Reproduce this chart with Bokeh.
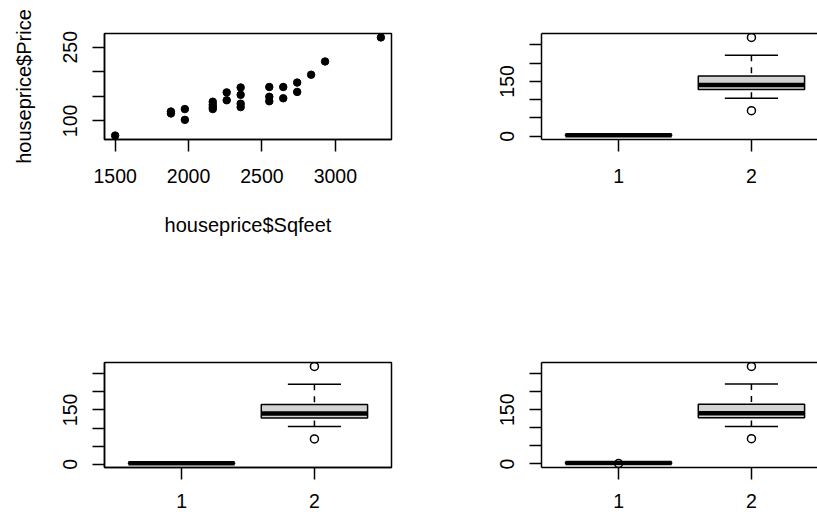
from bokeh.plotting import figure
from bokeh.layouts import gridplot
from bokeh.models import FixedTicker, LinearAxis, Range1d
from bokeh.embed import file_html
from bokeh.resources import INLINE

# ---------------- data ----------------
sqfeet = [1500, 1880, 1880, 1975, 1975, 2165, 2165, 2165, 2165, 2260, 2260,
          2355, 2355, 2355, 2355, 2550, 2550, 2550, 2645, 2645, 2740, 2740,
          2835, 2930, 3310]
price = [70, 119, 115, 124, 102, 139, 133, 128, 124, 158, 142,
         168, 153, 135, 128, 169, 149, 140, 169, 146, 178, 159,
         194, 221, 270]

groups = [1, 2]
group_labels = ["1", "2"]
# five-number boxplot statistics: lower whisker, Q1, median, Q3, upper whisker
col1_stats = [2, 2, 3, 4, 5]
col2_stats = [104, 128, 140, 165, 221]
col2_outliers = [70, 270]
col1_outliers_last = [1]          # only the last panel shows this one

scatter_xticks = [1500, 2000, 2500, 3000]
scatter_yticks = [100, 150, 200, 250]
scatter_ylabels = {100: "100", 150: "", 200: "", 250: "250"}
box_yticks = [0, 50, 100, 150, 200, 250]
box_ylabels = {0: "0", 50: "", 100: "", 150: "150", 200: "", 250: ""}

# ---------------- styling ----------------
FONT = "Liberation Sans"
FS = "19.5px"
FS_TITLE = "20px"
LW = 1.5


def padded(lo, hi, frac=0.04):
    d = (hi - lo) * frac
    return lo - d, hi + d


def style_axis(ax, ticks, overrides=None, standoff=14):
    ax.ticker = FixedTicker(ticks=ticks)
    if overrides:
        ax.major_label_overrides = overrides
    ax.axis_line_color = "black"
    ax.axis_line_width = LW
    ax.major_tick_line_color = "black"
    ax.major_tick_line_width = LW
    ax.major_tick_out = 12
    ax.major_tick_in = 0
    ax.minor_tick_line_color = None
    ax.major_label_text_font = FONT
    ax.major_label_text_font_size = FS
    ax.major_label_text_color = "black"
    ax.major_label_standoff = standoff
    ax.axis_label_text_font = FONT
    ax.axis_label_text_font_size = FS_TITLE
    ax.axis_label_text_font_style = "normal"
    ax.axis_label_text_color = "black"


def make_fig(width, height, xr, yr, left, right, top, bottom, outline=True):
    p = figure(width=width, height=height, x_range=Range1d(*xr), y_range=Range1d(*yr),
               output_backend="svg", toolbar_location=None, tools="",
               min_border_left=left, min_border_right=right,
               min_border_top=top, min_border_bottom=bottom)
    p.grid.visible = False
    p.background_fill_color = "white"
    p.border_fill_color = "white"
    if outline:
        p.outline_line_color = "black"
        p.outline_line_width = LW
    else:
        p.outline_line_color = None
    return p


def add_top_line(p):
    top_ax = LinearAxis(ticker=FixedTicker(ticks=[]), axis_line_color="black",
                        axis_line_width=LW, major_tick_out=0, major_tick_in=0,
                        minor_tick_line_color=None, major_label_text_font_size="0px",
                        major_label_standoff=0)
    p.add_layout(top_ax, "above")


def draw_box(p, c1_stats, c2_stats, out_x, out_y):
    stats = [c1_stats, c2_stats]
    lo = [s[0] for s in stats]
    q1 = [s[1] for s in stats]
    med = [s[2] for s in stats]
    q3 = [s[3] for s in stats]
    hi = [s[4] for s in stats]
    # whiskers (dashed), drawn from whisker end to box
    p.segment(x0=groups, y0=hi, x1=groups, y1=q3, line_color="black", line_width=LW, line_dash="6 6")
    p.segment(x0=groups, y0=lo, x1=groups, y1=q1, line_color="black", line_width=LW, line_dash="6 6")
    # staples
    p.segment(x0=[g - 0.2 for g in groups], y0=hi, x1=[g + 0.2 for g in groups], y1=hi,
              line_color="black", line_width=LW)
    p.segment(x0=[g - 0.2 for g in groups], y0=lo, x1=[g + 0.2 for g in groups], y1=lo,
              line_color="black", line_width=LW)
    # boxes
    p.vbar(x=groups, width=0.8, bottom=q1, top=q3, fill_color="#D3D3D3",
           line_color="black", line_width=LW)
    # medians
    p.segment(x0=[g - 0.4 for g in groups], y0=med, x1=[g + 0.4 for g in groups], y1=med,
              line_color="black", line_width=4.5)
    # outliers
    p.scatter(x=out_x, y=out_y, marker="circle", size=8, fill_color=None,
              line_color="black", line_width=LW)


# ---------------- geometry ----------------
W_LEFT, W_RIGHT = 437, 380
H_TOP, H_BOT = 328, 184
ML_L, MR_L = 104, 46          # left column borders
ML_R = 104                    # right column left border
FRAME_W = W_LEFT - ML_L - MR_L   # 287
VIS_W = W_RIGHT - ML_R           # 276 visible in right column

bx_lo, bx_hi = padded(0.5, 2.5)
bx_vis_hi = bx_lo + (bx_hi - bx_lo) * VIS_W / FRAME_W

# ---------------- panel 1: scatter ----------------
p1 = make_fig(W_LEFT, H_TOP, padded(min(sqfeet), max(sqfeet)), padded(min(price), max(price)),
              ML_L, MR_L, 33, H_TOP - 33 - 106)
p1.scatter(sqfeet, price, marker="circle", size=7.5, color="black")
xa, ya = p1.below[0], p1.left[0]
style_axis(xa, scatter_xticks, standoff=17)
style_axis(ya, scatter_yticks, scatter_ylabels, standoff=15)
ya.major_label_orientation = "vertical"
xa.axis_label = "houseprice$Sqfeet"
ya.axis_label = "houseprice$Price"
xa.axis_label_standoff = 28
ya.axis_label_standoff = 26

# ---------------- panel 2..4: boxplots ----------------
def box_y_range(extra):
    vals = col1_stats + col2_stats + col2_outliers + extra
    return padded(min(vals), max(vals))


def make_box_panel(width, height, xr, left, right, top, bottom, outline, extra_out, standoff):
    p = make_fig(width, height, xr, box_y_range(extra_out), left, right, top, bottom, outline)
    ox = [2] * len(col2_outliers) + [1] * len(extra_out)
    oy = col2_outliers + extra_out
    draw_box(p, col1_stats, col2_stats, ox, oy)
    style_axis(p.below[0], groups, {1: group_labels[0], 2: group_labels[1]}, standoff=standoff)
    style_axis(p.left[0], box_yticks, box_ylabels, standoff=15)
    p.left[0].major_label_orientation = "vertical"
    if not outline:
        add_top_line(p)
    return p


p2 = make_box_panel(W_RIGHT, H_TOP, (bx_lo, bx_vis_hi), ML_R, 0, 33, H_TOP - 33 - 106,
                    False, [], 17)
p3 = make_box_panel(W_LEFT, H_BOT, (bx_lo, bx_hi), ML_L, MR_L, 34, H_BOT - 34 - 105,
                    True, [], 14)
p4 = make_box_panel(W_RIGHT, H_BOT, (bx_lo, bx_vis_hi), ML_R, 0, 34, H_BOT - 34 - 105,
                    False, col1_outliers_last, 14)

layout = gridplot([[p1, p2], [p3, p4]], toolbar_location=None)

open("out.html", "w").write(file_html(layout, INLINE))
